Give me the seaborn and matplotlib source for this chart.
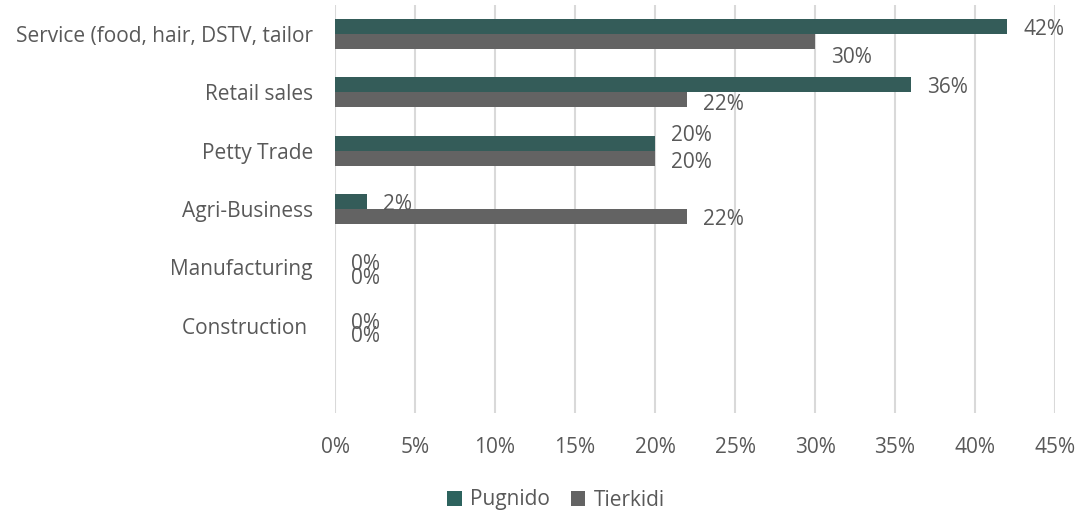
import matplotlib
matplotlib.use("Agg")
import matplotlib.pyplot as plt
import seaborn as sns
import pandas as pd
from matplotlib.patches import Patch
from matplotlib.ticker import PercentFormatter

# Business sectors (top to bottom) and the share of businesses per camp
categories = ["Service (food, hair, DSTV, tailor", "Retail sales", "Petty Trade",
              "Agri-Business", "Manufacturing", "Construction "]
pugnido = [0.42, 0.36, 0.20, 0.02, 0.00, 0.00]
tierkidi = [0.30, 0.22, 0.20, 0.22, 0.00, 0.00]
series_names = ["Pugnido", "Tierkidi"]
x_ticks = [0, 0.05, 0.10, 0.15, 0.20, 0.25, 0.30, 0.35, 0.40, 0.45]

colors = {"Pugnido": "#2D635E", "Tierkidi": "#636363"}
text_color = "#595959"
fs = 15

df = pd.DataFrame({
    "category": categories * 2,
    "share": pugnido + tierkidi,
    "site": [series_names[0]] * len(categories) + [series_names[1]] * len(categories),
})

sns.set_theme(style="white")
plt.rcParams["font.family"] = ["Open Sans", "DejaVu Sans"]

fig = plt.figure(figsize=(10.8, 5.15), dpi=100)
ax = fig.add_axes([335 / 1080, 1 - 413 / 515, 720 / 1080, 408 / 515])

sns.barplot(data=df, y="category", x="share", hue="site", order=categories,
            hue_order=series_names, palette=colors, orient="h", width=0.514,
            gap=0, linewidth=0, legend=False, ax=ax)

ax.set_xlim(0, 0.45)
ax.set_ylim(len(categories) + 0.5, -0.5)
ax.set_xticks(x_ticks)
ax.xaxis.set_major_formatter(PercentFormatter(1.0, decimals=0))
ax.grid(axis="x", color="#D9D9D9", linewidth=1.5)
ax.grid(axis="y", visible=False)
ax.set_axisbelow(True)
for s in ax.spines.values():
    s.set_visible(False)
ax.tick_params(axis="both", length=0, labelsize=fs, colors=text_color)
ax.tick_params(axis="x", pad=17)
ax.tick_params(axis="y", pad=16)
ax.set_xlabel("")
ax.set_ylabel("")

# vertical nudges (pixels, up positive) keeping crowded labels apart
nudge_p = [-3, -3, 8, -3, -5, -5]
nudge_t = [-16, -5, -4, -3, -4, -3]
bar_half = 0.514 / 4
for i, (p, t) in enumerate(zip(pugnido, tierkidi)):
    ax.annotate(f"{p:.0%}", (p, i - bar_half), xytext=(16, nudge_p[i]),
                textcoords="offset pixels", va="center", ha="left",
                fontsize=fs, color=text_color)
    ax.annotate(f"{t:.0%}", (t, i + bar_half), xytext=(16, nudge_t[i]),
                textcoords="offset pixels", va="center", ha="left",
                fontsize=fs, color=text_color)

handles = [Patch(facecolor=colors[n], edgecolor="none") for n in series_names]
fig.legend(handles, series_names, loc="center", bbox_to_anchor=(556 / 1080, 1 - 500 / 515),
           ncol=2, frameon=False, fontsize=fs, labelcolor=text_color,
           handlelength=0.7, handleheight=0.7, handletextpad=0.4, columnspacing=1.0)

fig.savefig("out.png", dpi=100)
